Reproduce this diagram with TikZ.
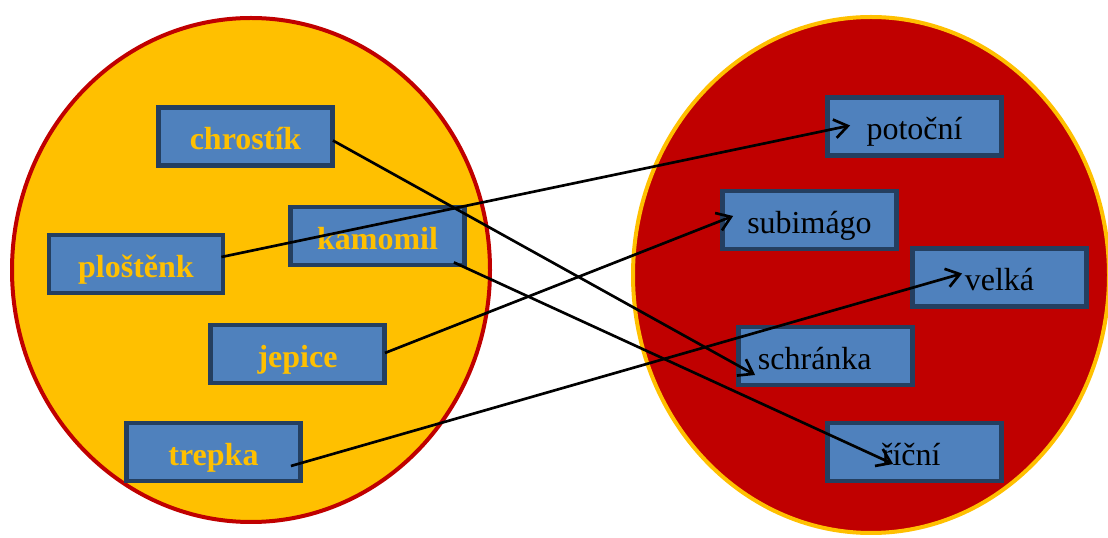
\documentclass[tikz,border=0pt]{standalone}
\usepackage{fontspec}
\setmainfont{Liberation Serif}
\usetikzlibrary{arrows.meta,calc}

\definecolor{setgold}{HTML}{FFC000}
\definecolor{setred}{HTML}{C00000}
\definecolor{boxblue}{HTML}{4F81BD}
\definecolor{boxedge}{HTML}{243F60}

\tikzset{
  wordbox/.style={draw=boxedge, line width=3.6pt, fill=boxblue,
    minimum width=130.5pt, minimum height=43.5pt, inner sep=0pt,
    text height=20pt, text depth=0pt,
    font=\fontsize{24}{28}\selectfont},
  leftword/.style={wordbox, text=setgold, font=\fontsize{24}{28}\selectfont\bfseries},
  rightword/.style={wordbox, text=black},
  link/.style={line width=2pt, -{Straight Barb[length=10pt,width=14pt,line width=2pt]}}
}

\begin{document}
\begin{tikzpicture}[x=0.75pt,y=-0.75pt]
\useasboundingbox (0,0) rectangle (1108,538);
\clip (0,0) rectangle (1108,538);

% the two sets
\draw[setred, line width=3pt, fill=setgold] (251,270) ellipse [x radius=239, y radius=252];
\draw[setgold, line width=3pt, fill=setred] (871,275) ellipse [x radius=238, y radius=258];

% left-hand words
\node[leftword] (chrostik) at (245.5,136.5) {chrostík};
\node[leftword] (plostenk) at (136,264) {ploštěnk};
\node[leftword] (kamomil)  at (377.5,236) {kamomil};
\node[leftword] (jepice)   at (297.5,354) {jepice};
\node[leftword] (trepka)   at (213.5,452) {trepka};

% right-hand words
\node[rightword] (potocni)  at (914.5,126.5) {potoční};
\node[rightword] (subimago) at (809.5,220)   {subimágo};
\node[rightword] (velka)    at (999.5,277.5) {\hspace*{0pt}velká};
\node[rightword] (schranka) at (825.5,356)   {\hspace*{-16pt}schránka};
\node[rightword] (ricni)    at (914.5,452)   {\hspace*{-5pt}říční};

% pairings
\draw[link] ($(chrostik.east)+(-2,4)$) -- ($(schranka.west)+(19,19)$);
\draw[link] ($(plostenk.east)+(-4,-7)$) -- ($(potocni.west)+(25,-1)$);
\draw[link] ($(kamomil.south east)+(-13,-5)$) -- ($(ricni.west)+(68,12)$);
\draw[link] ($(jepice.east)+(-2,-1)$) -- ($(subimago.west)+(13,-4)$);
\draw[link] ($(trepka.east)+(-12,14)$) -- ($(velka.west)+(52,-4)$);
\end{tikzpicture}
\end{document}
